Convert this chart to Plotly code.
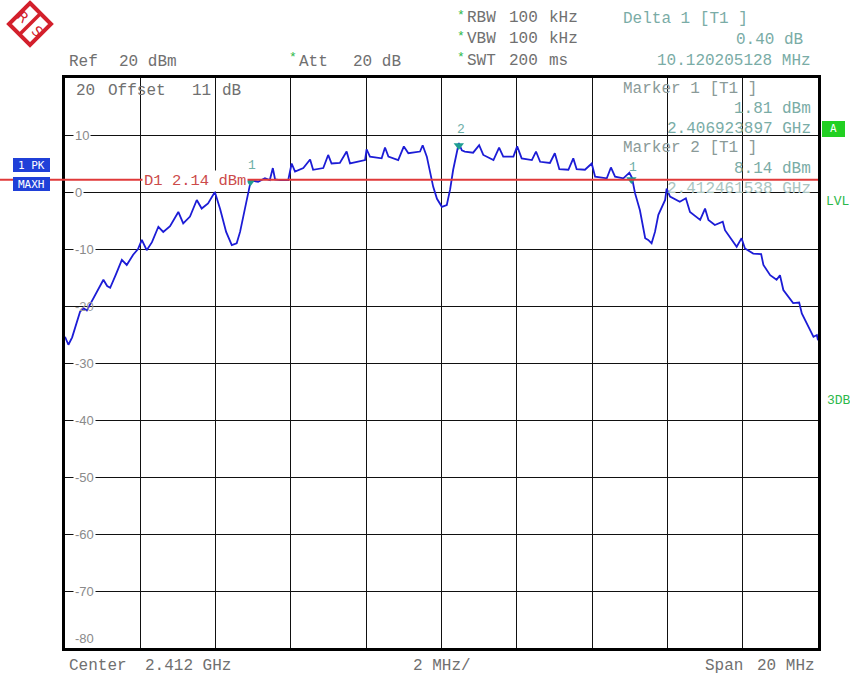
import plotly.graph_objects as go

# ---------------- data ----------------
freq_offset_mhz = [
    -10.0, -9.91, -9.81, -9.71, -9.60, -9.51, -9.42, -9.34, -9.15, -8.98, -8.88, -8.80,
    -8.65, -8.49, -8.36, -8.19, -8.06, -7.96, -7.83, -7.69, -7.52, -7.39, -7.21, -6.99,
    -6.86, -6.68, -6.50, -6.37, -6.20, -6.02, -5.88, -5.72, -5.57, -5.44, -5.35, -5.22,
    -5.09, -5.04, -4.93, -4.87, -4.69, -4.56, -4.48, -4.42, -4.29, -4.07, -3.98, -3.89,
    -3.67, -3.49, -3.41, -3.14, -3.01, -2.92, -2.70, -2.52, -2.43, -2.25, -2.03, -1.99,
    -1.90, -1.59, -1.50, -1.41, -1.15, -1.00, -0.88, -0.57, -0.50, -0.39, -0.31, -0.22,
    -0.12, 0.01, 0.14, 0.23, 0.31, 0.39, 0.46, 0.54, 0.62, 0.84, 1.00, 1.11,
    1.38, 1.53, 1.64, 1.91, 2.01, 2.13, 2.40, 2.51, 2.62, 2.88, 3.01, 3.13,
    3.37, 3.50, 3.59, 3.81, 3.99, 4.08, 4.39, 4.50, 4.61, 4.83, 4.99, 5.06,
    5.14, 5.27, 5.41, 5.49, 5.58, 5.67, 5.76, 5.94, 5.98, 6.07, 6.33, 6.49,
    6.60, 6.87, 7.00, 7.09, 7.26, 7.47, 7.53, 7.84, 7.97, 8.06, 8.28, 8.49,
    8.55, 8.73, 8.90, 8.99, 9.08, 9.34, 9.50, 9.57, 9.73, 9.88, 9.97, 10.0,
]
level_dbm = [
    -25.4, -26.8, -25.5, -23.5, -21.0, -20.4, -20.8, -19.8, -17.5, -15.4, -16.5, -16.8,
    -14.5, -11.9, -12.8, -11.0, -10.0, -8.4, -10.2, -8.8, -6.1, -7.0, -6.0, -3.5,
    -5.5, -4.3, -1.4, -2.9, -2.0, 0.0, -3.0, -7.0, -9.3, -9.0, -7.0, -3.0,
    1.2, 2.0, 1.8, 1.8, 2.4, 2.1, 4.2, 2.2, 2.1, 2.1, 5.0, 3.6,
    4.2, 5.7, 3.9, 4.2, 6.5, 5.0, 5.1, 7.1, 5.0, 5.3, 5.6, 7.5,
    6.2, 5.9, 7.8, 6.2, 5.6, 8.0, 6.8, 7.1, 8.2, 6.2, 3.5, 0.9,
    -1.2, -2.6, -2.3, 0.5, 3.9, 6.5, 8.6, 7.3, 7.1, 6.9, 8.2, 6.5,
    5.6, 7.8, 6.2, 6.2, 8.0, 5.9, 5.6, 7.1, 5.3, 5.1, 6.8, 4.0,
    3.9, 5.9, 4.0, 3.9, 5.0, 2.7, 2.4, 4.3, 2.7, 2.4, 3.4, 2.5,
    -0.2, -3.2, -8.1, -8.4, -9.0, -7.0, -4.0, -1.4, 0.6, -0.8, -1.7, -1.1,
    -3.5, -4.9, -2.9, -4.9, -5.8, -5.2, -6.7, -9.6, -8.1, -9.9, -10.8, -10.9,
    -12.8, -14.6, -15.4, -14.6, -17.2, -19.5, -19.4, -21.3, -23.5, -25.4, -25.1, -26.0,
]

marker_freq_mhz = [-5.076, 0.46, 5.044]
marker_level_dbm = [1.81, 8.14, 2.21]
marker_labels = ["1", "2", "1"]

display_line_dbm = 2.14
y_tick_values = [10, 0, -10, -20, -30, -40, -50, -60, -70, -80]
y_tick_labels = ["10", "0", "-10", "-20", "-30", "-40", "-50", "-60", "-70", "-80"]

# ---------------- layout helpers ----------------
W, H = 850, 677
L, R, T, B = 65, 818, 78, 648
MONO = "Liberation Mono"


def P(px, py):
    return (px - L) / (R - L), (B - py) / (B - T)


fig = go.Figure()

# spectrum trace
fig.add_trace(go.Scatter(
    x=freq_offset_mhz, y=level_dbm, mode="lines",
    line=dict(color="#1c1cd6", width=1.8), showlegend=False,
))

# markers
fig.add_trace(go.Scatter(
    x=marker_freq_mhz, y=marker_level_dbm, mode="markers",
    marker=dict(symbol="triangle-down", size=9, color="#1f9e92"),
    showlegend=False, cliponaxis=False,
))

shapes = []
# display line D1
shapes.append(dict(type="line", xref="paper", yref="y", x0=P(0, 0)[0], x1=1,
                   y0=display_line_dbm, y1=display_line_dbm,
                   line=dict(color="#e03a3a", width=2), layer="above"))

# left side boxes
for (y0, y1) in [(158, 172), (177, 191)]:
    a, b0 = P(13, y1)
    c, b1 = P(50, y0)
    shapes.append(dict(type="rect", xref="paper", yref="paper", x0=a, x1=c, y0=b0, y1=b1,
                       fillcolor="#2040d8", line=dict(width=0), layer="above"))
# green A box
a, b0 = P(822, 137)
c, b1 = P(845, 121)
shapes.append(dict(type="rect", xref="paper", yref="paper", x0=a, x1=c, y0=b0, y1=b1,
                   fillcolor="#22d022", line=dict(width=0), layer="above"))

# R&S logo diamond
cx, cy, hw = 30, 24, 21
pts = [P(cx, cy - hw), P(cx + hw, cy), P(cx, cy + hw), P(cx - hw, cy)]
path = "M " + " L ".join(f"{x},{y}" for x, y in pts) + " Z"
shapes.append(dict(type="path", xref="paper", yref="paper", path=path,
                   line=dict(color="#d3202c", width=4), fillcolor="white", layer="above"))
s0 = P(cx - hw / 2, cy + hw / 2)
s1 = P(cx + hw / 2, cy - hw / 2)
shapes.append(dict(type="line", xref="paper", yref="paper", x0=s0[0], y0=s0[1],
                   x1=s1[0], y1=s1[1], line=dict(color="#d3202c", width=3.5), layer="above"))

annotations = []


def txt(s, px, py, color="#6a6a6a", size=16, anchor="left", family=MONO, bg=None, yref_data=None):
    x, y = P(px, py)
    d = dict(x=x, y=y, xref="paper", yref="paper", text=s, showarrow=False,
             xanchor=anchor, yanchor="middle", font=dict(family=family, size=size, color=color),
             borderpad=1)
    if yref_data is not None:
        d["yref"] = "y"
        d["y"] = yref_data
    if bg:
        d["bgcolor"] = bg
    annotations.append(d)
    return d


GREY = "#707070"
TEAL = "#7aaca6"
GREEN = "#2cb84a"

# marker labels above the triangles
for mx, my, ml, ys in zip(marker_freq_mhz, marker_level_dbm, marker_labels, [16, 16, 12]):
    annotations.append(dict(x=mx, y=my, xref="x", yref="y", text=ml, showarrow=False,
                            yshift=ys, xshift=2, font=dict(family=MONO, size=13, color="#6fb0a8")))

# y-axis labels
for v, lab in zip(y_tick_values, y_tick_labels):
    if v == -80:
        txt(lab, 73, 638, "#8a8a8a", size=13, family="Liberation Sans", bg="white")
    elif v == -20:
        txt(lab, 73, 0, "#9a9a9a", size=13, family="Liberation Sans", yref_data=v)
    else:
        txt(lab, 73, 0, "#8a8a8a", size=13, family="Liberation Sans", bg="white", yref_data=v)

# header
txt("Ref", 67, 62, GREY)
txt("20 dBm", 117, 62, GREY)
txt("*", 287, 58, GREEN, size=13)
txt("Att", 297, 62, GREY)
txt("20 dB", 351, 62, GREY)
for row, (a1, a2, a3) in enumerate([("RBW", "100", "kHz"), ("VBW", "100", "kHz"), ("SWT", "200", "ms")]):
    yy = 18 + row * 21.5
    txt("*", 455, yy - 3, GREEN, size=13)
    txt(a1, 465, yy, GREY)
    txt(a2, 507, yy, GREY)
    txt(a3, 547, yy, GREY)
txt("Delta 1 [T1 ]", 621, 19, TEAL)
txt("0.40 dB", 805, 40, TEAL, anchor="right")
txt("10.120205128 MHz", 813, 61, TEAL, anchor="right")

# inside plot
txt("20", 74, 91, GREY)
txt("Offset", 106, 91, GREY)
txt("11", 190, 91, GREY)
txt("dB", 220, 91, GREY)
txt("Marker 1 [T1 ]", 621, 89, "#8a9a98")
txt("1.81 dBm", 813, 109, TEAL, anchor="right")
txt("2.406923897 GHz", 813, 129, TEAL, anchor="right")
txt("Marker 2 [T1 ]", 621, 148, "#8a9a98")
txt("8.14 dBm", 813, 169, TEAL, anchor="right")
txt("2.412461538 GHz", 813, 189, "#a9c4c0", anchor="right")
txt("D1 2.14 dBm", 142, 181, "#cc4a4a", size=15.5, bg="white")

# footer
txt("Center", 67, 666, GREY)
txt("2.412 GHz", 143, 666, GREY)
txt("2 MHz/", 411, 666, GREY)
txt("Span", 703, 666, GREY)
txt("20 MHz", 755, 666, GREY)

# side labels
txt("1 PK", 31.5, 165, "white", size=11, anchor="center", family="DejaVu Sans Mono")
txt("MAXH", 31.5, 184, "white", size=11, anchor="center", family="DejaVu Sans Mono")
txt("A", 833.5, 129, "white", size=11, anchor="center", family="DejaVu Sans Mono")
txt("LVL", 824, 201, GREEN, size=13)
txt("3DB", 825, 400, GREEN, size=13)

# logo letters
r = txt("R", 23, 17, "#d3202c", size=14, anchor="center", family="DejaVu Sans")
s = txt("S", 37, 31, "#d3202c", size=14, anchor="center", family="DejaVu Sans")
r["textangle"] = 45
s["textangle"] = 45

axis_common = dict(showgrid=True, gridcolor="#111111", gridwidth=1.4, zeroline=False,
                   showticklabels=False, ticks="", showline=True, linecolor="#000000",
                   linewidth=2.5, mirror=True, fixedrange=True)

fig.update_layout(
    width=W, height=H,
    margin=dict(l=L, r=W - R, t=T, b=H - B),
    paper_bgcolor="white", plot_bgcolor="white",
    xaxis=dict(range=[-10, 10], dtick=2, tick0=-10, **axis_common),
    yaxis=dict(range=[-80, 20], dtick=10, tick0=-80, **axis_common),
    shapes=shapes, annotations=annotations, showlegend=False,
)

fig.write_html("out.html")
